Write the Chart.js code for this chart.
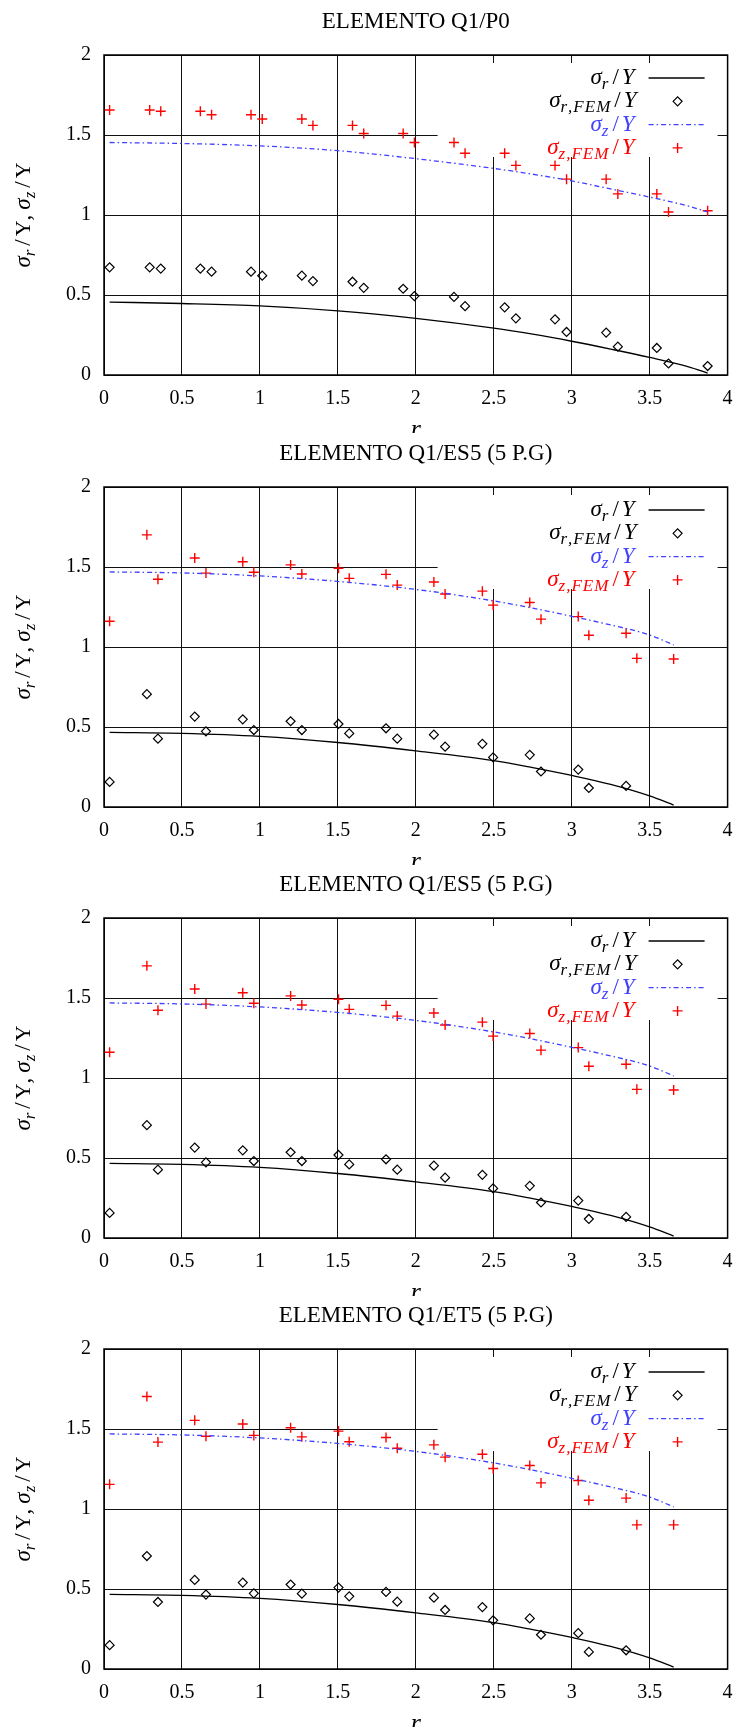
<!DOCTYPE html>
<html>
<head>
<meta charset="utf-8">
<script src="https://cdn.jsdelivr.net/npm/chart.js@4/dist/chart.umd.min.js"></script>
<style>
  body { margin: 0; background: #fff; }
  canvas { position: absolute; left: 0; }
</style>
</head>
<body>
<canvas id="c0" width="734" height="433" style="top:0px"></canvas>
<canvas id="c1" width="734" height="433" style="top:432px"></canvas>
<canvas id="c2" width="734" height="433" style="top:863px"></canvas>
<canvas id="c3" width="734" height="433" style="top:1294px"></canvas>
<script>
// values
const titles = ['ELEMENTO Q1/P0', 'ELEMENTO Q1/ES5 (5 P.G)', 'ELEMENTO Q1/ES5 (5 P.G)', 'ELEMENTO Q1/ET5 (5 P.G)'];

const xFem1 = [0.036, 0.293, 0.364, 0.618, 0.690, 0.943, 1.015, 1.269, 1.340, 1.594, 1.666, 1.919, 1.991, 2.245, 2.316, 2.570, 2.642, 2.893, 2.967, 3.221, 3.296, 3.546, 3.621, 3.872];
const srFem1 = [0.673, 0.673, 0.665, 0.665, 0.646, 0.646, 0.621, 0.621, 0.587, 0.583, 0.545, 0.539, 0.493, 0.488, 0.430, 0.423, 0.354, 0.348, 0.269, 0.265, 0.177, 0.169, 0.072, 0.056];
const szFem1 = [1.656, 1.656, 1.648, 1.648, 1.627, 1.627, 1.600, 1.600, 1.560, 1.560, 1.509, 1.509, 1.453, 1.453, 1.386, 1.386, 1.310, 1.310, 1.224, 1.224, 1.132, 1.132, 1.019, 1.027];

const xFem2 = [0.036, 0.275, 0.346, 0.582, 0.654, 0.890, 0.961, 1.197, 1.269, 1.504, 1.573, 1.809, 1.881, 2.116, 2.188, 2.427, 2.496, 2.731, 2.803, 3.042, 3.110, 3.349, 3.418, 3.654];
const srFem2 = [0.157, 0.705, 0.427, 0.565, 0.473, 0.548, 0.481, 0.536, 0.481, 0.519, 0.460, 0.492, 0.427, 0.452, 0.377, 0.395, 0.310, 0.326, 0.222, 0.234, 0.119, 0.132];
const szFem2 = [1.161, 1.701, 1.423, 1.556, 1.462, 1.533, 1.467, 1.513, 1.456, 1.492, 1.429, 1.454, 1.387, 1.406, 1.331, 1.349, 1.262, 1.278, 1.174, 1.190, 1.073, 1.086, 0.929, 0.925];

const srFem4 = [0.149, 0.706, 0.419, 0.557, 0.465, 0.540, 0.473, 0.528, 0.471, 0.509, 0.454, 0.482, 0.421, 0.446, 0.369, 0.387, 0.304, 0.316, 0.214, 0.224, 0.107, 0.117];
const szFem4 = [1.154, 1.703, 1.418, 1.554, 1.455, 1.531, 1.460, 1.508, 1.451, 1.487, 1.420, 1.447, 1.380, 1.401, 1.324, 1.342, 1.253, 1.272, 1.163, 1.178, 1.055, 1.068, 0.901, 0.901];

const xCurve1 = [0.036, 0.5, 1, 1.5, 2, 2.5, 2.75, 3, 3.25, 3.5, 3.75, 3.872];
const srCurve1 = [0.456, 0.447, 0.432, 0.401, 0.354, 0.293, 0.255, 0.211, 0.162, 0.110, 0.051, 0.012];
const szCurve1 = [1.453, 1.447, 1.432, 1.402, 1.352, 1.291, 1.255, 1.213, 1.163, 1.112, 1.055, 1.019];

const xCurve2 = [0.036, 0.5, 1, 1.5, 2, 2.5, 2.75, 3, 3.25, 3.5, 3.654];
const srCurve2 = [0.466, 0.460, 0.441, 0.403, 0.351, 0.290, 0.246, 0.197, 0.141, 0.069, 0.012];
const szCurve2 = [1.469, 1.463, 1.444, 1.410, 1.360, 1.288, 1.243, 1.192, 1.138, 1.075, 1.013];

const panels = [
    { xFem: xFem1, srFem: srFem1, szFem: szFem1, xC: xCurve1, srC: srCurve1, szC: szCurve1 },
    { xFem: xFem2, srFem: srFem2, szFem: szFem2, xC: xCurve2, srC: srCurve2, szC: szCurve2 },
    { xFem: xFem2, srFem: srFem2, szFem: szFem2, xC: xCurve2, srC: srCurve2, szC: szCurve2 },
    { xFem: xFem2, srFem: srFem4, szFem: szFem4, xC: xCurve2, srC: srCurve2, szC: szCurve2 }
];

const BLUE = '#4040ff';
const RED = '#ff0000';
const SERIF = "'Liberation Serif', 'DejaVu Serif', serif";
const M = 'italic 23px ' + SERIF;   // math letters
const S = 'italic 17px ' + SERIF;   // subscripts
const R = '23px ' + SERIF;          // upright
const RY = '22px ' + SERIF;         // upright Y in the axis title

function pts(xs, ys) {
    return ys.map((y, i) => ({ x: xs[i], y: y }));
}

// σ_sub / Y as rich text pieces
function sigmaOver(sub, yFont, gap) {
    return [
        { t: 'σ', f: M },
        { t: sub, f: S, dy: 5, ls: 1 },
        { g: gap },
        { t: '/', f: R },
        { g: gap },
        { t: 'Y', f: yFont }
    ];
}

function segWidth(ctx, s) {
    ctx.font = s.f;
    return ctx.measureText(s.t).width + (s.ls || 0) * s.t.length;
}

function drawRich(ctx, segs, x, y, align) {
    let w = 0;
    segs.forEach(s => { w += s.g ? s.g : segWidth(ctx, s); });
    let cx = align === 'right' ? x - w : align === 'center' ? x - w / 2 : x;
    ctx.textAlign = 'left';
    ctx.textBaseline = 'alphabetic';
    segs.forEach(s => {
        if (s.g) { cx += s.g; return; }
        ctx.font = s.f;
        if (s.ls) {
            for (const ch of s.t) {
                ctx.fillText(ch, cx, y + (s.dy || 0));
                cx += ctx.measureText(ch).width + s.ls;
            }
        } else {
            ctx.fillText(s.t, cx, y + (s.dy || 0));
            cx += ctx.measureText(s.t).width;
        }
    });
}

const legendItems = [
    { segs: sigmaOver('r', M, 3), color: '#000', kind: 'line' },
    { segs: sigmaOver('r,FEM', M, 3), color: '#000', kind: 'diamond' },
    { segs: sigmaOver('z', M, 3), color: BLUE, kind: 'dash' },
    { segs: sigmaOver('z,FEM', M, 3), color: RED, kind: 'cross' }
];

const gnuplotLook = {
    id: 'gnuplotLook',
    beforeDatasetsDraw(chart) {
        const { ctx, chartArea: a, scales } = chart;
        ctx.save();
        // opaque key area hides the grid behind it
        const bx = scales.x.getPixelForValue(2.14);
        ctx.fillStyle = '#fff';
        ctx.fillRect(bx, a.top + 8, a.right - 10 - bx, 94);
        ctx.strokeStyle = '#000';
        ctx.lineWidth = 1.5;
        ctx.strokeRect(a.left, a.top, a.right - a.left, a.bottom - a.top);
        ctx.restore();
    },
    afterDatasetsDraw(chart) {
        const { ctx, chartArea: a } = chart;
        ctx.save();
        legendItems.forEach((it, i) => {
            const y = a.top + 23 + i * 23.3;
            ctx.fillStyle = it.color;
            drawRich(ctx, it.segs, a.right - 93, y + 6, 'right');
            ctx.strokeStyle = it.color;
            if (it.kind === 'line' || it.kind === 'dash') {
                ctx.lineWidth = 1.3;
                ctx.setLineDash(it.kind === 'dash' ? [5, 3, 1.5, 3] : []);
                ctx.beginPath();
                ctx.moveTo(a.right - 79, y);
                ctx.lineTo(a.right - 23, y);
                ctx.stroke();
                ctx.setLineDash([]);
            } else if (it.kind === 'diamond') {
                const cx = a.right - 50, r = 4.5;
                ctx.lineWidth = 1.2;
                ctx.beginPath();
                ctx.moveTo(cx - r, y); ctx.lineTo(cx, y - r);
                ctx.lineTo(cx + r, y); ctx.lineTo(cx, y + r);
                ctx.closePath();
                ctx.stroke();
            } else {
                const cx = a.right - 50, r = 5;
                ctx.lineWidth = 1.4;
                ctx.beginPath();
                ctx.moveTo(cx - r, y); ctx.lineTo(cx + r, y);
                ctx.moveTo(cx, y - r); ctx.lineTo(cx, y + r);
                ctx.stroke();
            }
        });
        ctx.restore();
    },
    afterDraw(chart) {
        const { ctx, chartArea: a } = chart;
        const midX = (a.left + a.right) / 2;
        ctx.save();
        ctx.fillStyle = '#000';
        ctx.font = '23px ' + SERIF;
        ctx.textAlign = 'center';
        ctx.textBaseline = 'alphabetic';
        ctx.fillText(chart.options.plugins.panelTitle, midX, 28);
        ctx.font = 'italic 26px ' + SERIF;
        ctx.fillText('r', midX, a.bottom + 62);
        // y axis title, rotated
        ctx.translate(30, (a.top + a.bottom) / 2);
        ctx.rotate(-Math.PI / 2);
        const segs = sigmaOver('r', RY, 3)
            .concat([{ t: ',', f: R }, { g: 5 }])
            .concat(sigmaOver('z', RY, 3));
        drawRich(ctx, segs, 0, 0, 'center');
        ctx.restore();
    }
};

const tickLabel = v => String(v);

function makeChart(i) {
    const p = panels[i];
    new Chart(document.getElementById('c' + i), {
        type: 'scatter',
        data: {
            datasets: [
                {
                    type: 'line', label: 'σr/Y', data: pts(p.xC, p.srC),
                    borderColor: '#000', borderWidth: 1.3, pointRadius: 0,
                    cubicInterpolationMode: 'monotone', fill: false
                },
                {
                    label: 'σr,FEM/Y', data: pts(p.xFem, p.srFem),
                    pointStyle: 'rectRot', pointRadius: 4.5, borderColor: '#000',
                    backgroundColor: 'rgba(0,0,0,0)', borderWidth: 1.2
                },
                {
                    type: 'line', label: 'σz/Y', data: pts(p.xC, p.szC),
                    borderColor: BLUE, borderWidth: 1.3, borderDash: [5, 3, 1.5, 3],
                    pointRadius: 0, cubicInterpolationMode: 'monotone', fill: false
                },
                {
                    label: 'σz,FEM/Y', data: pts(p.xFem, p.szFem),
                    pointStyle: 'cross', pointRadius: 5, borderColor: RED,
                    backgroundColor: RED, borderWidth: 1.4
                }
            ]
        },
        options: {
            responsive: false,
            animation: false,
            devicePixelRatio: 1,
            layout: { padding: { top: 55, right: 3, left: 0, bottom: 0 } },
            plugins: {
                legend: { display: false },
                tooltip: { enabled: false },
                panelTitle: titles[i]
            },
            scales: {
                x: {
                    type: 'linear', min: 0, max: 4,
                    grid: { color: '#111', lineWidth: 1, drawTicks: false },
                    border: { display: false },
                    ticks: {
                        stepSize: 0.5, padding: 12, color: '#000', maxRotation: 0, autoSkip: false,
                        font: { family: SERIF, size: 20 }, callback: tickLabel
                    },
                    afterFit(s) { s.height = 58; s.paddingLeft = 0; s.paddingRight = 0; }
                },
                y: {
                    type: 'linear', min: 0, max: 2,
                    grid: { color: '#111', lineWidth: 1, drawTicks: false },
                    border: { display: false },
                    ticks: {
                        stepSize: 0.5, padding: 13, color: '#000',
                        font: { family: SERIF, size: 20 }, callback: tickLabel
                    },
                    afterFit(s) { s.width = 104; s.paddingTop = 0; s.paddingBottom = 0; }
                }
            }
        },
        plugins: [gnuplotLook]
    });
}

[0, 1, 2, 3].forEach(makeChart);
</script>
</body>
</html>
